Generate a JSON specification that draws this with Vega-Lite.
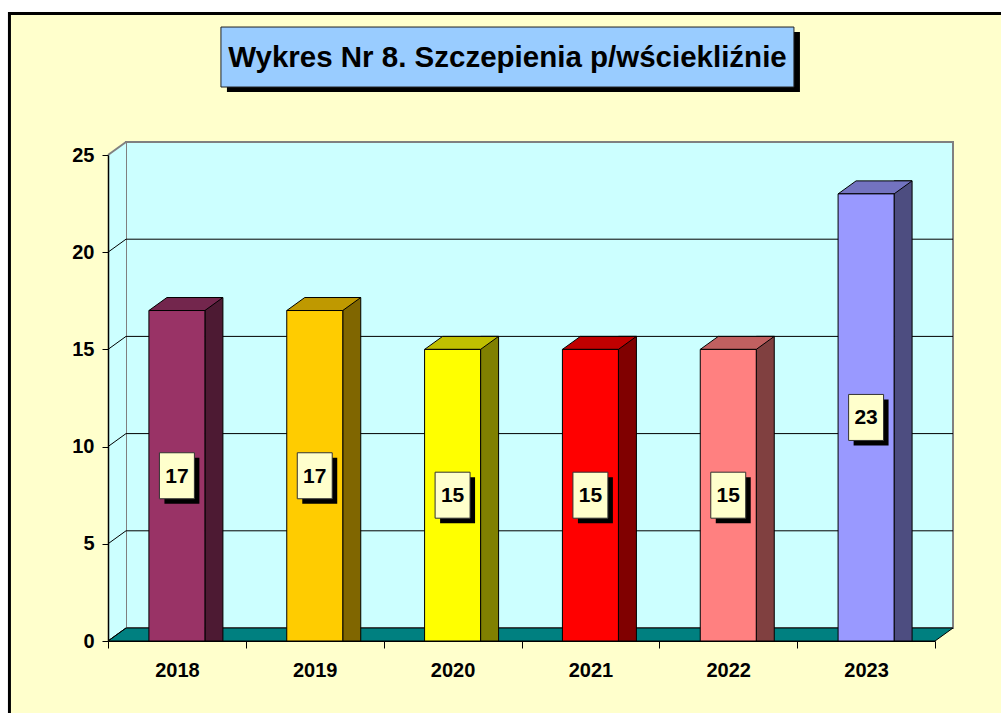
{
  "$schema": "https://vega.github.io/schema/vega-lite/v6.json",
  "width": 827,
  "height": 486,
  "autosize": {"type": "none"},
  "padding": {"left": 108, "top": 155, "right": 66, "bottom": 72},
  "background": "white",
  "config": {"view": {"stroke": null}, "font": "Liberation Sans"},
  "data": {"values": [
    {"year": "2018", "value": 17},
    {"year": "2019", "value": 17},
    {"year": "2020", "value": 15},
    {"year": "2021", "value": 15},
    {"year": "2022", "value": 15},
    {"year": "2023", "value": 23}
  ]},
  "resolve": {"scale": {"x": "independent", "y": "independent", "fill": "independent"}},
  "layer": [
    {
      "data": {"values": [{}]},
      "mark": {"type": "rect", "fill": "#FFFFCC", "stroke": "black", "strokeWidth": 3},
      "encoding": {
        "x": {"datum": -0.715, "type": "quantitative", "scale": {"domain": [0, 6], "nice": false, "zero": false}, "axis": null},
        "x2": {"datum": 8},
        "y": {"datum": 32.28, "type": "quantitative", "scale": {"domain": [0, 25], "nice": false}, "axis": null},
        "y2": {"datum": -5}
      }
    },
    {
      "data": {"values": [{}]},
      "mark": {"type": "rect", "fill": "#CCFFFF", "stroke": "#808080", "strokeWidth": 2, "xOffset": 18, "x2Offset": 18, "yOffset": -13, "y2Offset": -13},
      "encoding": {
        "x": {"datum": 0, "type": "quantitative", "scale": {"domain": [0, 6], "nice": false, "zero": false}, "axis": null},
        "x2": {"datum": 6},
        "y": {"datum": 0, "type": "quantitative", "scale": {"domain": [0, 25], "nice": false}, "axis": null},
        "y2": {"datum": 25}
      }
    },
    {
      "data": {"values": [{}]},
      "mark": {"type": "point", "shape": "M 0 0 L 0 -1.944 L 0.072 -1.996 L 0.072 -0.052 Z", "size": 250000, "filled": true, "fill": "#CCFFFF", "opacity": 1, "strokeWidth": 0},
      "encoding": {
        "x": {"datum": 0, "type": "quantitative", "scale": {"domain": [0, 6], "nice": false, "zero": false}, "axis": null},
        "y": {"datum": 0, "type": "quantitative", "scale": {"domain": [0, 25], "nice": false}, "axis": null}
      }
    },
    {
      "data": {"values": [{}]},
      "mark": {"type": "point", "shape": "M 0 0 L 3.308 0 L 3.38 -0.052 L 0.072 -0.052 Z", "size": 250000, "filled": true, "fill": "#008080", "opacity": 1, "stroke": "black", "strokeWidth": 1},
      "encoding": {
        "x": {"datum": 0, "type": "quantitative", "scale": {"domain": [0, 6], "nice": false, "zero": false}, "axis": null},
        "y": {"datum": 0, "type": "quantitative", "scale": {"domain": [0, 25], "nice": false}, "axis": null}
      }
    },
    {
      "data": {"values": [{"tick": 5}, {"tick": 10}, {"tick": 15}, {"tick": 20}]},
      "mark": {"type": "rule", "color": "black", "strokeWidth": 1, "xOffset": 18, "x2Offset": 18, "yOffset": -13, "y2Offset": -13},
      "encoding": {
        "x": {"datum": 0, "type": "quantitative", "scale": {"domain": [0, 6], "nice": false, "zero": false}, "axis": null},
        "x2": {"datum": 6},
        "y": {"field": "tick", "type": "quantitative", "scale": {"domain": [0, 25], "nice": false}, "axis": null},
        "y2": {"field": "tick"}
      }
    },
    {
      "data": {"values": [{"tick": 0}, {"tick": 5}, {"tick": 10}, {"tick": 15}, {"tick": 20}]},
      "mark": {"type": "rule", "color": "black", "strokeWidth": 1, "x2Offset": 18, "y2Offset": -13},
      "encoding": {
        "x": {"datum": 0, "type": "quantitative", "scale": {"domain": [0, 6], "nice": false, "zero": false}, "axis": null},
        "x2": {"datum": 0},
        "y": {"field": "tick", "type": "quantitative", "scale": {"domain": [0, 25], "nice": false}, "axis": null},
        "y2": {"field": "tick"}
      }
    },
    {
      "data": {"values": [{}]},
      "mark": {"type": "rule", "color": "#808080", "strokeWidth": 2, "x2Offset": 18, "y2Offset": -13},
      "encoding": {
        "x": {"datum": 0, "type": "quantitative", "scale": {"domain": [0, 6], "nice": false, "zero": false}, "axis": null},
        "x2": {"datum": 0},
        "y": {"datum": 25, "type": "quantitative", "scale": {"domain": [0, 25], "nice": false}, "axis": null},
        "y2": {"datum": 25}
      }
    },
    {
      "mark": {"type": "bar", "width": 18, "xOffset": 37, "yOffset": -13, "stroke": "black", "strokeWidth": 1},
      "encoding": {
        "x": {"field": "year", "type": "ordinal", "scale": {"type": "band", "paddingInner": 0, "paddingOuter": 0}, "axis": null},
        "y": {"field": "value", "type": "quantitative", "scale": {"domain": [0, 25], "nice": false}, "axis": null},
        "y2": {"datum": 0},
        "fill": {"field": "year", "type": "nominal", "scale": {"domain": ["2018", "2019", "2020", "2021", "2022", "2023"], "range": ["#4D1A33", "#806600", "#808000", "#800000", "#804040", "#4D4D80"]}, "legend": null}
      }
    },
    {
      "mark": {"type": "point", "shape": "M -0.56 0 L 0.56 0 L 0.92 -0.26 L -0.2 -0.26 Z", "size": 10000, "filled": true, "opacity": 1, "stroke": "black", "strokeWidth": 1},
      "encoding": {
        "x": {"field": "year", "type": "ordinal", "scale": {"type": "band", "paddingInner": 0, "paddingOuter": 0}, "axis": null},
        "y": {"field": "value", "type": "quantitative", "scale": {"domain": [0, 25], "nice": false}, "axis": null},
        "fill": {"field": "year", "type": "nominal", "scale": {"domain": ["2018", "2019", "2020", "2021", "2022", "2023"], "range": ["#73264D", "#BF9900", "#C0C000", "#C00000", "#C06060", "#7373C0"]}, "legend": null}
      }
    },
    {
      "mark": {"type": "bar", "width": 56, "stroke": "black", "strokeWidth": 1},
      "encoding": {
        "x": {"field": "year", "type": "ordinal", "scale": {"type": "band", "paddingInner": 0, "paddingOuter": 0},
          "axis": {"title": null, "labelAngle": 0, "tickBand": "extent", "tickSize": 7, "tickColor": "black", "domainColor": "black", "domainWidth": 1, "labelPadding": 12, "labelFontSize": 20, "labelFontWeight": "bold", "labelColor": "black", "labelFont": "Liberation Sans", "zindex": 1}},
        "y": {"field": "value", "type": "quantitative", "scale": {"domain": [0, 25], "nice": false},
          "axis": {"title": null, "values": [0, 5, 10, 15, 20, 25], "grid": false, "tickSize": 6, "tickColor": "black", "domainColor": "black", "domainWidth": 1.5, "labelPadding": 8, "labelFontSize": 20, "labelFontWeight": "bold", "labelColor": "black", "labelFont": "Liberation Sans", "zindex": 1}},
        "y2": {"datum": 0},
        "fill": {"field": "year", "type": "nominal", "scale": {"domain": ["2018", "2019", "2020", "2021", "2022", "2023"], "range": ["#993366", "#FFCC00", "#FFFF00", "#FF0000", "#FF8080", "#9999FF"]}, "legend": null}
      }
    },
    {
      "mark": {"type": "point", "shape": "M -0.76 -1 L 0.76 -1 L 0.76 1 L -0.76 1 Z", "size": 2116, "filled": true, "opacity": 1, "fill": "black", "strokeWidth": 0, "xOffset": 5, "yOffset": 5},
      "encoding": {
        "x": {"field": "year", "type": "ordinal", "scale": {"type": "band", "paddingInner": 0, "paddingOuter": 0}, "axis": null},
        "y": {"field": "value", "type": "quantitative", "scale": {"domain": [0, 50], "nice": false}, "axis": null}
      }
    },
    {
      "mark": {"type": "point", "shape": "M -0.76 -1 L 0.76 -1 L 0.76 1 L -0.76 1 Z", "size": 2116, "filled": true, "opacity": 1, "fill": "#FFFFCC", "stroke": "#333333", "strokeWidth": 1},
      "encoding": {
        "x": {"field": "year", "type": "ordinal", "scale": {"type": "band", "paddingInner": 0, "paddingOuter": 0}, "axis": null},
        "y": {"field": "value", "type": "quantitative", "scale": {"domain": [0, 50], "nice": false}, "axis": null}
      }
    },
    {
      "mark": {"type": "text", "fontSize": 21, "fontWeight": "bold", "font": "Liberation Sans", "color": "black", "align": "center", "baseline": "middle", "yOffset": 1},
      "encoding": {
        "x": {"field": "year", "type": "ordinal", "scale": {"type": "band", "paddingInner": 0, "paddingOuter": 0}, "axis": null},
        "y": {"field": "value", "type": "quantitative", "scale": {"domain": [0, 50], "nice": false}, "axis": null},
        "text": {"field": "value", "type": "quantitative"}
      }
    },
    {
      "data": {"values": [{}]},
      "mark": {"type": "point", "shape": "M -0.955 -0.1 L 0.955 -0.1 L 0.955 0.1 L -0.955 0.1 Z", "size": 360000, "filled": true, "opacity": 1, "fill": "black", "strokeWidth": 0, "xOffset": 6, "yOffset": 5},
      "encoding": {
        "x": {"datum": 2.898, "type": "quantitative", "scale": {"domain": [0, 6], "nice": false, "zero": false}, "axis": null},
        "y": {"datum": 30.04, "type": "quantitative", "scale": {"domain": [0, 25], "nice": false}, "axis": null}
      }
    },
    {
      "data": {"values": [{}]},
      "mark": {"type": "point", "shape": "M -0.955 -0.1 L 0.955 -0.1 L 0.955 0.1 L -0.955 0.1 Z", "size": 360000, "filled": true, "opacity": 1, "fill": "#99CCFF", "stroke": "#222222", "strokeWidth": 1},
      "encoding": {
        "x": {"datum": 2.898, "type": "quantitative", "scale": {"domain": [0, 6], "nice": false, "zero": false}, "axis": null},
        "y": {"datum": 30.04, "type": "quantitative", "scale": {"domain": [0, 25], "nice": false}, "axis": null}
      }
    },
    {
      "data": {"values": [{"title": "Wykres Nr 8. Szczepienia p/wściekliźnie"}]},
      "mark": {"type": "text", "fontSize": 29.5, "fontWeight": "bold", "font": "Liberation Sans", "color": "black", "align": "center", "baseline": "middle", "yOffset": 1},
      "encoding": {
        "x": {"datum": 2.898, "type": "quantitative", "scale": {"domain": [0, 6], "nice": false, "zero": false}, "axis": null},
        "y": {"datum": 30.04, "type": "quantitative", "scale": {"domain": [0, 25], "nice": false}, "axis": null},
        "text": {"field": "title", "type": "nominal"}
      }
    }
  ]
}
